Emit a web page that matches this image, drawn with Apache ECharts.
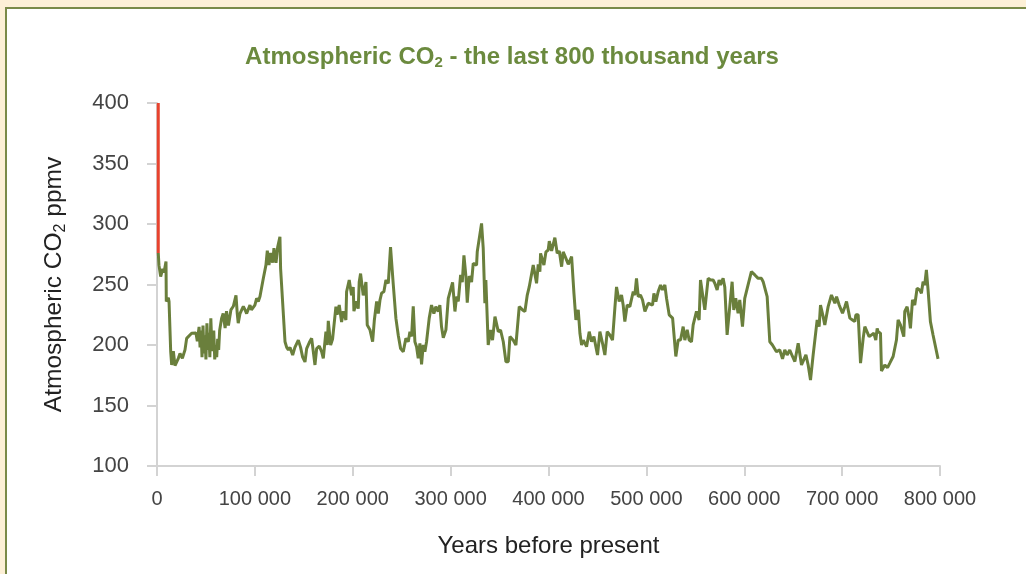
<!DOCTYPE html>
<html>
<head>
<meta charset="utf-8">
<script src="https://cdn.jsdelivr.net/npm/echarts@6/dist/echarts.min.js"></script>
<style>
html,body{margin:0;padding:0;width:1026px;height:574px;overflow:hidden;background:#FDF0D6;}
#panel{position:absolute;left:5px;top:7px;width:1040px;height:600px;background:#fff;border:2px solid #7A8A48;box-sizing:border-box;}
#chart{position:absolute;left:0;top:0;width:1026px;height:574px;}
</style>
</head>
<body>
<div id="panel"></div>
<div id="chart"></div>
<script>
// Years before present, in thousands of years
const yearsKyr = [
  1.3, 2.0, 3.75, 5.8, 7.15, 9.2, 9.5, 11.6, 12.3, 14.0, 15.0, 16.7, 18.4, 20.1, 21.8, 23.5, 25.9, 28.6, 30.3, 35.4,
  39.8, 41.2, 43, 44, 45, 46, 47, 48, 49, 50, 51, 52, 53, 54, 55, 56, 57, 58, 59, 60,
  61, 62, 63, 64, 66, 67.6, 69.6, 71, 73, 75.5, 78, 80.7, 82, 83, 84.8, 88.2, 90, 91.6, 95, 96.5,
  98.4, 100, 101.8, 103.5, 105.2, 108.6, 111.3, 112.7, 114.4, 116.1, 118.2, 119.5, 121.6, 123.3, 125.6, 126.3, 130.8, 132.5, 134.2, 135.9,
  138.6, 140.9, 144.4, 146.7, 148.8, 151.2, 152.9, 155.6, 158, 159.7, 161.4, 163.1, 165.8, 168.2, 169.9, 172.6, 174, 175, 177.4, 179.4,
  182.8, 184, 186.2, 188.6, 190.3, 193, 193.7, 196.4, 198.8, 200.5, 201.2, 203.9, 205.6, 206.6, 208, 210.7, 213.5, 214.8, 217.6, 220.3,
  222, 224.4, 226.1, 227.8, 229.5, 231.8, 233.9, 236.3, 238.6, 241.4, 244.1, 246.5, 248.9, 251.6, 254.3, 256.7, 258.4, 260.1, 261.8, 263.5,
  265.2, 266.9, 268.6, 270.3, 272, 273.7, 275.4, 278.1, 280.5, 282.9, 284.9, 287.3, 289, 290.7, 292.5, 295.2, 297.6, 299.3, 302, 304.4,
  306.1, 307.8, 310.2, 311.9, 313.6, 315.6, 317, 319, 321.4, 323.1, 324.8, 326.5, 327.2, 329.2, 331.6, 333.3, 335, 336, 338.4, 340.8,
  342.8, 345.3, 348.7, 351, 353.8, 356.5, 358.9, 360.6, 364, 366.7, 370.1, 373.5, 375.9, 378.3, 380.3, 381.7, 384.4, 387.8, 389.5, 391.2,
  391.9, 395.3, 397.4, 399.7, 400.8, 403.2, 406.5, 408.9, 411, 413.4, 415, 417.8, 420.2, 423.6, 426, 428, 430.4, 432.1, 433.8, 435.5,
  437.2, 438.9, 441.6, 444, 446.4, 448.4, 450.1, 452.5, 455.2, 457.6, 460, 462.7, 465.4, 467.8, 469.5, 472.2, 474.6, 476.3, 478, 480.4,
  483.1, 486.6, 488.2, 489.9, 491.7, 494, 496.1, 498.5, 501.9, 503.6, 506.3, 507.7, 509.7, 512.1, 514.5, 516.5, 518.9, 520.6, 523.3, 526.8,
  528.1, 530.1, 532.5, 534.9, 537.6, 539.3, 541.7, 543.7, 546.1, 547.8, 551.2, 553.9, 555.3, 559.7, 563.1, 565.5, 568.2, 569.9, 572.3, 574.3,
  575.7, 578.4, 580.1, 582.5, 585.2, 587.6, 589.3, 591.3, 593.7, 595.4, 598.2, 600.5, 603.9, 607.3, 610.8, 614.2, 617.6, 619.3, 623.4, 626.1,
  628.8, 630.2, 632.9, 636.3, 639.1, 641.4, 643.8, 646.5, 649.3, 651.7, 655.1, 658.5, 663, 665.3, 667.7, 670.4, 674.5, 676.5, 677.9, 680.6,
  682.3, 685.7, 689.1, 692.6, 694.3, 697, 700.4, 702.8, 704.5, 707.9, 710.6, 713, 714, 716.4, 718.8, 721.5, 723.2, 727.6, 732.4, 734.4,
  735.8, 736.8, 739.2, 740.2, 743.6, 746.4, 748.7, 752.1, 755.5, 757.2, 759.6, 763, 764, 766.4, 768.5, 769.8, 771.9, 774.2, 776.6, 779.3,
  781, 782.7, 784.4, 786.1, 787.8, 790.2, 792.9, 798
];
// CO2 concentration, ppmv (ice core record)
const co2Ppmv = [
  276, 266, 256.5, 263, 260, 269, 236, 239, 236, 194.5, 183.5, 195, 183, 182, 189, 193, 189, 196, 205.5, 209.7,
  210, 203, 215, 198, 212, 190, 216, 193, 208, 188, 218, 196, 210, 190, 222, 200, 195, 212, 188, 200,
  190, 205, 196, 212, 222, 226, 214, 228, 216, 229, 232, 241, 226, 218, 226, 232, 229, 226, 233, 229,
  228, 233, 238.6, 236, 240, 255, 266, 278, 266, 276, 268, 280, 268, 281, 289.5, 263, 202.7, 198, 196, 198,
  191.7, 198, 204, 198, 190, 186, 197, 202, 205.5, 204, 183.5, 197, 199, 194.5, 189, 211, 200, 220, 200, 205,
  231.7, 225, 233, 219, 228, 220.7, 244, 253.7, 241, 248, 228, 236, 230, 252, 259, 241, 252, 216.6, 212.5, 202.7,
  220, 236, 226, 237, 243, 244, 253.7, 251, 281, 250, 222, 208, 197, 194.5, 205.5, 202.7, 211, 207, 232, 202.7,
  198.6, 189, 201.4, 184, 200, 194.5, 202.7, 222, 233, 226, 231.7, 227.7, 233, 215, 206, 212.5, 238.6, 237.3, 251.7, 227.7,
  240, 236, 258, 252, 274, 257, 235, 257, 252, 267.5, 267.5, 266, 277, 277, 300.5, 280, 234.5, 253.7, 200, 212.4,
  204, 223.4, 211, 212.4, 202.7, 186.2, 186.2, 207, 204, 200, 231.7, 229, 227.7, 241.3, 248, 246.6, 266, 251, 266.7, 260.6,
  275.8, 266, 277, 278.5, 285.9, 277.8, 288.7, 275.8, 277.8, 264.7, 277, 271.6, 266.7, 273, 242.7, 220.7, 229, 209.7, 200, 204,
  202.7, 198.6, 211, 202.7, 206.9, 198.6, 191.7, 211, 201.4, 191.7, 211, 208.3, 204, 230.4, 248, 236, 241.3, 233, 219.3, 233,
  231.7, 244.2, 241.3, 255.1, 239.9, 241.3, 237.2, 227.7, 234.5, 235.9, 233, 242.7, 235.9, 244.2, 249.6, 245.5, 249.6, 238.6, 224.9, 222.2,
  222.2, 190.5, 204.1, 204.1, 215.2, 204.1, 212.5, 204.1, 202.7, 216.6, 227.7, 220.7, 253.7, 229, 255.1, 253.7, 253.7, 251, 245.5, 253.7,
  249.6, 255.1, 248, 208.3, 231.7, 252.3, 229, 238.6, 226.2, 237.2, 215.2, 238.6, 249.6, 260.6, 257.9, 255.1, 255.1, 252.3, 240, 202.7,
  200, 201.4, 194.5, 195.9, 188.5, 195.9, 191.8, 195.9, 190.5, 186.3, 201.4, 183.5, 191.8, 183.5, 171.1, 191.8, 220.7, 215.2, 233, 223.4,
  216.6, 231.7, 241.3, 234.5, 239.9, 233, 226.2, 231.7, 235.9, 222.2, 220.7, 219.3, 224.9, 224.9, 185, 205.5, 215.2, 206.9, 209.7, 204.1,
  213.8, 211, 209.7, 178.5, 183.5, 181.3, 185, 190.5, 204.1, 220.7, 216.6, 206.9, 227.7, 231.7, 222.2, 213.8, 237.3, 233, 246.9, 245.5,
  242.7, 252.3, 249.6, 262, 245.5, 219.3, 208.3, 188.5
];
// Modern (instrumental) rise, shown in red
const modernYearsKyr = [1.3, 1.3];
const modernPpmv = [276, 400];

// Axis ticks
const yTicks = [100, 150, 200, 250, 300, 350, 400];
const xTicks = [0, 100000, 200000, 300000, 400000, 500000, 600000, 700000, 800000];

const iceData = yearsKyr.map((y, i) => [y * 1000, co2Ppmv[i]]);
const modernData = modernYearsKyr.map((y, i) => [y * 1000, modernPpmv[i]]);

const chart = echarts.init(document.getElementById('chart'), null, {renderer: 'canvas'});
const labelFont = '"Liberation Sans", Arial, sans-serif';
chart.setOption({
  backgroundColor: 'transparent',
  animation: false,
  title: {
    text: '{a|Atmospheric CO}{s|2}{a| - the last 800 thousand years}',
    left: 507,
    textAlign: 'center',
    top: 38,
    textStyle: {
      rich: {
        a: {fontSize: 24, fontWeight: 'bold', color: '#6B8A3E', fontFamily: labelFont, lineHeight: 28},
        s: {fontSize: 15, fontWeight: 'bold', color: '#6B8A3E', fontFamily: labelFont, lineHeight: 28, padding: [12, 0, 0, 0]}
      }
    }
  },
  grid: {left: 157, right: 86, top: 103, bottom: 108, containLabel: false},
  xAxis: {
    type: 'value',
    min: xTicks[0],
    max: xTicks[xTicks.length - 1],
    interval: xTicks[1] - xTicks[0],
    name: 'Years before present',
    nameLocation: 'middle',
    nameGap: 68,
    nameTextStyle: {fontSize: 24, color: '#222', fontFamily: labelFont},
    axisLine: {show: true, lineStyle: {color: '#D3D3D3', width: 2}},
    axisTick: {show: true, length: 10, lineStyle: {color: '#D3D3D3', width: 2}},
    splitLine: {show: false},
    axisLabel: {
      margin: 23,
      fontSize: 20,
      color: '#444',
      fontFamily: labelFont,
      formatter: v => String(v).replace(/\B(?=(\d{3})+(?!\d))/g, ' ')
    }
  },
  yAxis: {
    type: 'value',
    min: yTicks[0],
    max: yTicks[yTicks.length - 1],
    interval: yTicks[1] - yTicks[0],
    name: '{a|Atmospheric CO}{s|2}{a| ppmv}',
    nameLocation: 'middle',
    nameGap: 88,
    nameRotate: 90,
    nameTextStyle: {
      rich: {
        a: {fontSize: 24.5, color: '#222', fontFamily: labelFont, lineHeight: 30},
        s: {fontSize: 16, color: '#222', fontFamily: labelFont, lineHeight: 30, padding: [13, 0, 0, 0]}
      }
    },
    axisLine: {show: true, lineStyle: {color: '#D3D3D3', width: 2}},
    axisTick: {show: true, length: 10, lineStyle: {color: '#D3D3D3', width: 2}},
    splitLine: {show: false},
    axisLabel: {margin: 28, fontSize: 22, color: '#444', fontFamily: labelFont, padding: [4, 0, 0, 0]}
  },
  series: [
    {
      name: 'Ice core',
      type: 'line',
      data: iceData,
      showSymbol: false,
      symbol: 'none',
      lineStyle: {color: '#6A7F3C', width: 3},
      z: 2
    },
    {
      name: 'Modern',
      type: 'line',
      data: modernData,
      showSymbol: false,
      symbol: 'none',
      lineStyle: {color: '#E8432E', width: 3},
      z: 3
    }
  ]
});
</script>
</body>
</html>
